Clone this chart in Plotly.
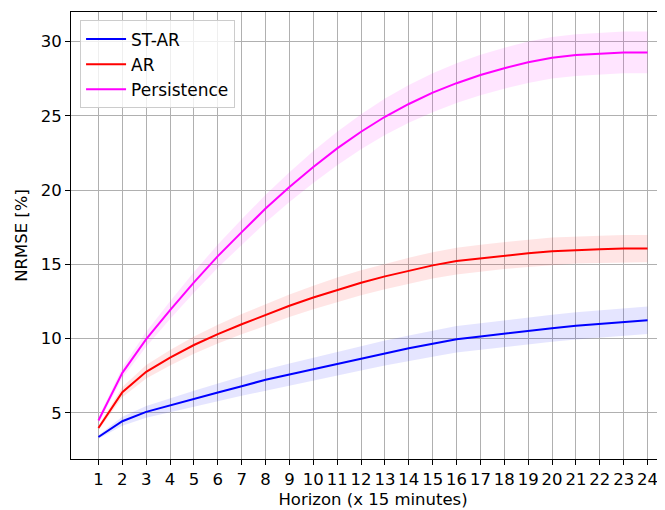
import plotly.graph_objects as go

horizon = list(range(1, 25))
tick_labels = [str(h) for h in horizon]

st_ar = [3.38, 4.44, 5.07, 5.52, 5.95, 6.38, 6.80, 7.23, 7.59, 7.95, 8.31, 8.67,
         9.03, 9.35, 9.66, 9.96, 10.14, 10.34, 10.52, 10.70, 10.86, 10.99, 11.13, 11.24]
ar = [3.99, 6.40, 7.77, 8.72, 9.57, 10.30, 10.97, 11.60, 12.21, 12.77, 13.29, 13.76,
      14.19, 14.57, 14.93, 15.22, 15.41, 15.59, 15.74, 15.88, 15.97, 16.01, 16.06, 16.06]
persistence = [4.49, 7.70, 9.96, 11.92, 13.79, 15.55, 17.17, 18.75, 20.20, 21.55, 22.80, 23.92,
               24.93, 25.79, 26.55, 27.19, 27.74, 28.20, 28.60, 28.90, 29.08, 29.19, 29.26, 29.26]

st_ar_std = [0.12, 0.30, 0.40, 0.48, 0.55, 0.60, 0.65, 0.70, 0.74, 0.77, 0.80, 0.82,
             0.84, 0.86, 0.88, 0.89, 0.90, 0.90, 0.91, 0.91, 0.92, 0.92, 0.92, 0.92]
ar_std = [0.15, 0.35, 0.45, 0.52, 0.58, 0.63, 0.68, 0.72, 0.76, 0.79, 0.82, 0.84,
          0.86, 0.88, 0.89, 0.90, 0.91, 0.91, 0.92, 0.92, 0.92, 0.92, 0.92, 0.92]
persistence_std = [0.20, 0.35, 0.50, 0.60, 0.70, 0.78, 0.86, 0.93, 1.00, 1.07, 1.13, 1.18,
                   1.23, 1.27, 1.31, 1.34, 1.36, 1.38, 1.39, 1.40, 1.40, 1.40, 1.40, 1.40]

series = [
    ("ST-AR", st_ar, st_ar_std, "#0000ff", "rgba(0,0,255,0.1)"),
    ("AR", ar, ar_std, "#ff0000", "rgba(255,0,0,0.1)"),
    ("Persistence", persistence, persistence_std, "#ff00ff", "rgba(255,0,255,0.1)"),
]

fig = go.Figure()
for name, mean, std, col, fcol in series:
    upper = [m + s for m, s in zip(mean, std)]
    lower = [m - s for m, s in zip(mean, std)]
    fig.add_trace(go.Scatter(
        x=horizon + horizon[::-1], y=upper + lower[::-1],
        fill="toself", fillcolor=fcol, line=dict(width=0),
        mode="lines", showlegend=False, hoverinfo="skip"))
for name, mean, std, col, fcol in series:
    fig.add_trace(go.Scatter(x=horizon, y=mean, mode="lines", name=name,
                             line=dict(color=col, width=2)))

font = "DejaVu Sans, Arial, sans-serif"
fs = 16.5
# page body has an 8px default margin; margins below compensate for it
fig.update_layout(
    width=667, height=510,
    margin=dict(l=63, r=0, t=4, b=59),
    plot_bgcolor="white", paper_bgcolor="white",
    font=dict(family=font, size=fs, color="black"),
    legend=dict(x=0.015, y=0.981, xanchor="left", yanchor="top",
                bgcolor="rgba(255,255,255,0.8)", bordercolor="#cccccc", borderwidth=1,
                font=dict(size=17, family=font), tracegroupgap=0, itemwidth=40),
    showlegend=True,
)
fig.update_xaxes(
    range=[-0.15, 25.15], tickmode="array", tickvals=horizon, ticktext=tick_labels,
    tickangle=0, showgrid=True, gridcolor="#b0b0b0", gridwidth=1,
    showline=True, linecolor="black", linewidth=1, mirror=True,
    ticks="outside", ticklen=5, tickcolor="black", zeroline=False, automargin=False,
    title=dict(text="Horizon (x 15 minutes)", font=dict(size=fs), standoff=5),
    tickfont=dict(size=fs),
)
fig.update_yaxes(
    range=[1.9, 31.98], tickvals=[5, 10, 15, 20, 25, 30],
    showgrid=True, gridcolor="#b0b0b0", gridwidth=1,
    showline=True, linecolor="black", linewidth=1,
    ticks="outside", ticklen=5, tickcolor="black", zeroline=False, automargin=False,
    title=dict(text="NRMSE [%]", font=dict(size=fs), standoff=8),
    tickfont=dict(size=fs),
)
fig.write_html("out.html")
